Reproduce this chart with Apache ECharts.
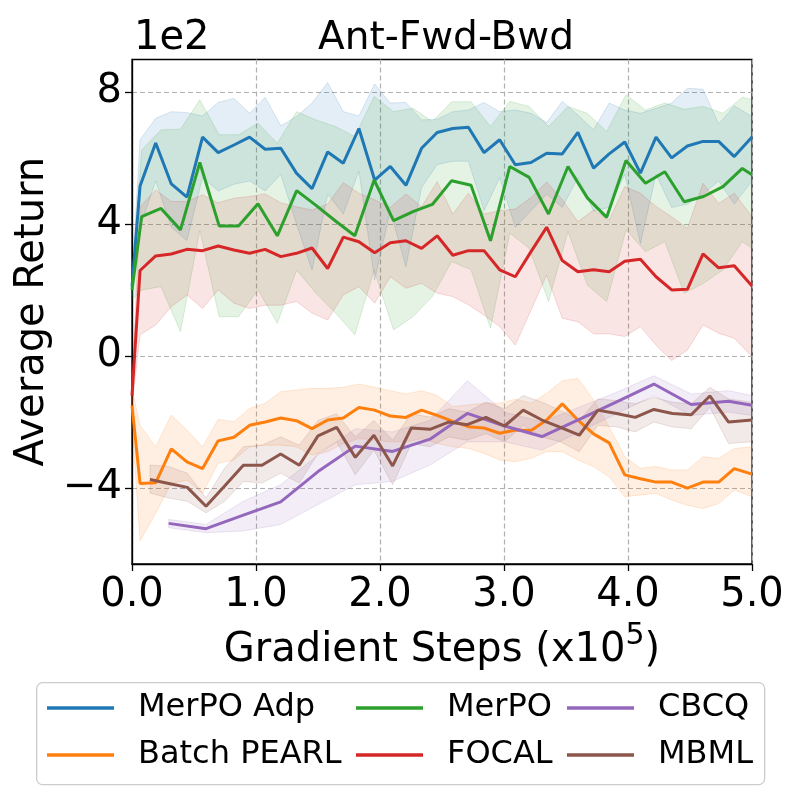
<!DOCTYPE html>
<html>
<head>
<meta charset="utf-8">
<script src="https://cdn.jsdelivr.net/npm/echarts@6/dist/echarts.min.js"></script>
<style>
  html, body { margin: 0; background: #fff; }
  #chart { width: 800px; height: 800px; }
</style>
</head>
<body>
<div id="chart"></div>
<script>
// gradient steps (x1e5) at which each method was logged
const stepsFine = [0, 0.065, 0.191, 0.317, 0.443, 0.569, 0.695, 0.822, 0.948, 1.074, 1.200, 1.326, 1.452, 1.578, 1.704, 1.830, 1.957, 2.083, 2.209, 2.335, 2.461, 2.587, 2.713, 2.839, 2.965, 3.091, 3.218, 3.344, 3.470, 3.596, 3.722, 3.848, 3.974, 4.100, 4.226, 4.352, 4.479, 4.605, 4.731, 4.857, 5.0];
const stepsMerpo = [0, 0.078, 0.234, 0.391, 0.547, 0.703, 0.859, 1.016, 1.172, 1.328, 1.484, 1.641, 1.797, 1.953, 2.109, 2.266, 2.422, 2.578, 2.734, 2.891, 3.047, 3.203, 3.359, 3.516, 3.672, 3.828, 3.984, 4.141, 4.297, 4.453, 4.609, 4.766, 4.922, 5.0];
const stepsMbml = [0.145, 0.296, 0.446, 0.597, 0.747, 0.898, 1.048, 1.199, 1.349, 1.500, 1.650, 1.801, 1.951, 2.102, 2.252, 2.403, 2.553, 2.704, 2.854, 3.005, 3.155, 3.306, 3.456, 3.607, 3.757, 3.908, 4.058, 4.209, 4.359, 4.510, 4.660, 4.811, 5.0];
const stepsCbcq = [0.296, 0.597, 0.898, 1.199, 1.500, 1.801, 2.102, 2.403, 2.704, 3.005, 3.306, 3.607, 3.908, 4.209, 4.510, 4.811, 5.0];

// average return (x1e2): mean and shaded band
const adpMean = [2.1, 5.15, 6.45, 5.21, 4.81, 6.63, 6.16, 6.39, 6.63, 6.26, 6.29, 5.54, 5.07, 6.18, 5.84, 6.89, 5.33, 5.74, 5.17, 6.29, 6.77, 6.89, 6.93, 6.16, 6.55, 5.79, 5.86, 6.14, 6.12, 6.77, 5.69, 6.12, 6.48, 5.54, 6.63, 6.0, 6.36, 6.5, 6.5, 6.04, 6.63];
const adpHigh = [2.4, 6.55, 7.2, 7.4, 7.37, 7.27, 7.68, 7.8, 7.35, 7.84, 6.97, 7.25, 7.66, 8.28, 7.4, 7.27, 8.24, 7.66, 7.68, 7.15, 7.17, 7.4, 7.45, 7.68, 7.4, 7.45, 7.35, 7.07, 7.71, 7.3, 6.85, 7.66, 7.45, 7.35, 7.5, 7.66, 8.11, 8.08, 7.03, 7.58, 7.25];
const adpLow = [1.8, 3.9, 5.3, 3.9, 3.5, 5.4, 5.0, 5.2, 5.3, 5.0, 5.5, 4.0, 2.6, 4.9, 4.3, 5.6, 2.3, 4.4, 2.7, 5.1, 5.8, 5.9, 5.9, 4.4, 5.4, 3.9, 4.4, 4.9, 4.5, 5.4, 4.4, 4.5, 5.5, 3.4, 5.5, 4.5, 4.6, 4.9, 5.3, 4.6, 5.3];

const merpoMean = [2.0, 4.22, 4.47, 3.82, 5.86, 3.94, 3.94, 4.61, 3.64, 5.01, 4.56, 4.09, 3.64, 5.33, 4.10, 4.37, 4.59, 5.31, 5.17, 3.49, 5.74, 5.41, 4.30, 5.74, 4.79, 4.20, 5.92, 5.23, 5.58, 4.67, 4.83, 5.13, 5.68, 5.49];
const merpoHigh = [2.3, 6.24, 6.85, 6.87, 7.76, 6.7, 6.7, 7.05, 6.44, 7.4, 7.15, 6.95, 6.65, 7.86, 7.4, 7.5, 7.1, 7.7, 7.7, 6.95, 7.71, 7.56, 6.95, 7.56, 7.35, 6.8, 7.91, 7.45, 7.66, 7.47, 7.56, 7.35, 7.84, 7.76];
const merpoLow = [1.7, 2.0, 2.1, 0.74, 3.8, 1.19, 1.19, 2.0, 0.99, 2.6, 1.9, 1.3, 0.64, 2.6, 0.79, 1.19, 1.8, 2.86, 2.61, 0.84, 3.72, 3.26, 1.65, 3.77, 2.15, 1.65, 3.82, 3.16, 3.46, 1.9, 2.2, 2.61, 3.46, 3.26];

const focalMean = [-1.2, 2.59, 3.03, 3.09, 3.23, 3.19, 3.33, 3.21, 3.11, 3.23, 3.01, 3.11, 3.27, 2.65, 3.6, 3.46, 3.13, 3.43, 3.49, 3.26, 3.64, 3.05, 3.19, 3.19, 2.61, 2.4, 3.16, 3.9, 2.89, 2.55, 2.61, 2.55, 2.87, 2.93, 2.4, 2.0, 2.02, 3.09, 2.67, 2.73, 2.12];
const focalHigh = [-0.9, 4.52, 5.03, 4.68, 4.68, 4.88, 4.64, 4.78, 4.83, 4.91, 4.64, 4.52, 4.42, 4.6, 5.25, 4.93, 4.73, 4.5, 4.91, 4.52, 5.28, 4.3, 4.93, 4.3, 4.4, 4.45, 4.8, 5.27, 4.74, 4.07, 4.42, 4.12, 5.13, 4.93, 4.53, 4.22, 3.87, 5.23, 4.62, 4.93, 4.22];
const focalLow = [-1.5, 0.64, 0.94, 1.49, 1.85, 1.44, 2.0, 1.6, 1.44, 1.54, 1.54, 1.65, 1.3, 1.09, 1.85, 2.1, 1.6, 2.4, 2.05, 2.2, 1.9, 1.8, 1.55, 1.24, 0.89, 0.33, 1.39, 2.45, 1.14, 1.04, 0.67, 0.67, 0.59, 0.89, 0.33, -0.14, 0.18, 0.94, 0.69, 0.54, -0.02];

const pearlMean = [-1.5, -3.86, -3.84, -2.81, -3.21, -3.41, -2.57, -2.46, -2.1, -2.0, -1.88, -1.96, -2.2, -1.94, -1.88, -1.56, -1.64, -1.82, -1.86, -1.64, -1.8, -1.98, -2.14, -2.18, -2.34, -2.24, -2.26, -1.94, -1.45, -1.94, -2.36, -2.63, -3.6, -3.72, -3.82, -3.82, -4.0, -3.82, -3.82, -3.41, -3.58];
const pearlHigh = [-1.0, -2.1, -2.75, -1.79, -2.24, -2.75, -1.92, -1.99, -1.59, -1.43, -1.08, -1.03, -0.98, -0.98, -0.95, -0.85, -0.95, -1.05, -1.15, -1.05, -1.2, -1.53, -1.48, -1.43, -1.43, -1.31, -1.43, -1.13, -0.75, -0.68, -1.33, -2.14, -3.05, -3.4, -3.35, -3.45, -3.45, -3.05, -3.1, -2.8, -2.75];
const pearlLow = [-2.0, -5.6, -4.76, -3.86, -3.76, -4.16, -3.25, -3.15, -2.75, -2.7, -2.7, -2.75, -3.0, -2.9, -2.65, -2.5, -2.55, -2.6, -2.6, -2.5, -2.65, -2.75, -2.8, -2.95, -3.15, -3.2, -3.1, -2.9, -2.9, -3.15, -3.35, -3.66, -4.26, -4.21, -4.16, -4.36, -4.52, -4.62, -4.47, -4.06, -4.26];

const mbmlMean = [-3.74, -3.86, -3.98, -4.55, -3.94, -3.31, -3.31, -2.97, -3.31, -2.42, -2.16, -3.07, -2.4, -3.33, -2.18, -2.22, -2.0, -2.08, -1.86, -2.12, -1.64, -1.94, -2.16, -2.4, -1.64, -1.74, -1.86, -1.62, -1.74, -1.78, -1.21, -2.0, -1.94];
const mbmlHigh = [-3.3, -3.35, -3.55, -4.3, -3.4, -2.75, -2.7, -2.45, -2.7, -1.95, -1.75, -2.45, -1.95, -2.55, -1.75, -1.85, -1.6, -1.7, -1.4, -1.6, -1.2, -1.4, -1.65, -1.95, -1.3, -1.35, -1.45, -1.25, -1.4, -1.45, -0.95, -1.3, -1.4];
const mbmlLow = [-4.15, -4.3, -4.4, -4.75, -4.4, -3.8, -3.85, -3.55, -3.85, -2.95, -2.6, -3.6, -2.85, -3.9, -2.65, -2.75, -2.45, -2.55, -2.35, -2.6, -2.1, -2.45, -2.6, -2.9, -2.1, -2.15, -2.3, -2.0, -2.15, -2.2, -1.55, -2.65, -2.6];

const cbcqMean = [-5.07, -5.23, -4.82, -4.42, -3.5, -2.73, -2.89, -2.52, -1.74, -2.12, -2.44, -1.92, -1.39, -0.85, -1.47, -1.37, -1.49];
const cbcqHigh = [-4.95, -5.1, -4.4, -3.9, -3.0, -2.2, -2.3, -1.95, -0.75, -1.7, -2.0, -1.55, -1.1, -0.6, -1.15, -1.05, -1.2];
const cbcqLow = [-5.2, -5.35, -5.3, -5.1, -4.5, -3.9, -3.8, -3.3, -2.6, -2.6, -2.85, -2.3, -1.75, -1.2, -1.8, -1.7, -1.8];

const yTicks = [-4, 0, 4, 8];

const FONT = 'DejaVu Sans';

const methods = [
    { name: 'MerPO Adp', rgb: '31,119,180', xs: stepsFine, mean: adpMean, lo: adpLow, hi: adpHigh },
    { name: 'Batch PEARL', rgb: '255,127,14', xs: stepsFine, mean: pearlMean, lo: pearlLow, hi: pearlHigh },
    { name: 'MerPO', rgb: '44,160,44', xs: stepsMerpo, mean: merpoMean, lo: merpoLow, hi: merpoHigh },
    { name: 'FOCAL', rgb: '214,39,40', xs: stepsFine, mean: focalMean, lo: focalLow, hi: focalHigh },
    { name: 'CBCQ', rgb: '148,103,189', xs: stepsCbcq, mean: cbcqMean, lo: cbcqLow, hi: cbcqHigh },
    { name: 'MBML', rgb: '140,86,75', xs: stepsMbml, mean: mbmlMean, lo: mbmlLow, hi: mbmlHigh },
];

// one polygon per method: upper edge left->right, lower edge back
const bandSeries = m => ({
    type: 'custom',
    name: m.name + ' band',
    silent: true,
    clip: true,
    z: 1,
    data: m.xs.map((x, i) => [x, m.lo[i], m.hi[i]]),
    encode: { x: 0, y: [1, 2] },
    renderItem: (params, api) => {
        if (params.dataIndex !== 0) return;
        const pts = [];
        m.xs.forEach((x, i) => pts.push(api.coord([x, m.hi[i]])));
        for (let i = m.xs.length - 1; i >= 0; i--) pts.push(api.coord([m.xs[i], m.lo[i]]));
        return {
            type: 'polygon',
            shape: { points: pts },
            style: { fill: `rgba(${m.rgb},0.12)`, stroke: `rgba(${m.rgb},0.16)`, lineWidth: 1 }
        };
    }
});

const lineSeries = m => ({
    type: 'line',
    name: m.name,
    data: m.xs.map((x, i) => [x, m.mean[i]]),
    symbol: 'none',
    z: 3,
    lineStyle: { width: 3, color: `rgb(${m.rgb})` },
    itemStyle: { color: `rgb(${m.rgb})` }
});

const legendCommon = {
    orient: 'vertical',
    top: 690,
    padding: 0,
    icon: 'rect',
    itemWidth: 67,
    itemHeight: 3.5,
    itemGap: 11,
    selectedMode: false,
    textStyle: { fontFamily: FONT, fontSize: 32, color: '#000', lineHeight: 36, padding: [0, 0, 0, 19] }
};

const chart = echarts.init(document.getElementById('chart'));

chart.setOption({
    animation: false,
    backgroundColor: '#fff',
    title: {
        text: 'Ant-Fwd-Bwd',
        left: 441,
        top: 14,
        textAlign: 'center',
        textStyle: { fontFamily: FONT, fontSize: 39, fontWeight: 'normal', color: '#000' }
    },
    grid: {
        left: 132, right: 48, top: 59.5, bottom: 236,
        containLabel: false,
        outerBoundsMode: 'none',
        show: true,
        borderColor: '#000',
        borderWidth: 1.3
    },
    legend: [
        { ...legendCommon, left: 47, data: ['MerPO Adp', 'Batch PEARL'] },
        { ...legendCommon, left: 356, data: ['MerPO', 'FOCAL'] },
        { ...legendCommon, left: 567, data: ['CBCQ', 'MBML'] }
    ],
    xAxis: {
        type: 'value',
        min: 0,
        max: 5,
        interval: 1,
        name: '{t|Gradient Steps (x10}{s|5}{t|)}',
        nameLocation: 'middle',
        nameGap: 52,
        nameTextStyle: {
            rich: {
                t: { fontFamily: FONT, fontSize: 40, color: '#000', lineHeight: 60 },
                s: { fontFamily: FONT, fontSize: 30, color: '#000', lineHeight: 30, verticalAlign: 'top' }
            }
        },
        axisLine: { show: true, onZero: false, lineStyle: { color: '#000', width: 1.3 } },
        axisTick: { show: true, length: 7, lineStyle: { color: '#000', width: 1.3 } },
        axisLabel: {
            fontFamily: FONT, fontSize: 40, color: '#000', margin: 12,
            formatter: v => v.toFixed(1)
        },
        splitLine: { show: true, lineStyle: { type: [5, 3], color: '#b0b0b0', width: 1.2 } }
    },
    yAxis: {
        type: 'value',
        min: -6.3,
        max: 8.98,
        name: 'Average Return',
        nameLocation: 'middle',
        nameGap: 72,
        nameTextStyle: { fontFamily: FONT, fontSize: 40, color: '#000' },
        axisLine: { show: true, onZero: false, lineStyle: { color: '#000', width: 1.3 } },
        axisTick: { show: true, length: 7, customValues: yTicks, lineStyle: { color: '#000', width: 1.3 } },
        axisLabel: {
            customValues: yTicks,
            fontFamily: FONT, fontSize: 40, color: '#000', margin: 10,
            formatter: v => (v < 0 ? '\u2212' + Math.abs(v) : String(v))
        },
        splitLine: { show: true, lineStyle: { type: [5, 3], color: '#b0b0b0', width: 1.2 } }
    },
    graphic: [
        {
            type: 'text',
            left: 134,
            top: 19,
            style: { text: '1e2', fontFamily: FONT, fontSize: 40, fill: '#000' }
        },
        {
            type: 'rect',
            left: 36,
            top: 682,
            z: -1,
            shape: { width: 728, height: 102, r: 6 },
            style: { fill: '#fff', stroke: '#cccccc', lineWidth: 1.3 }
        }
    ],
    series: [
        ...methods.map(bandSeries),
        ...methods.map(lineSeries)
    ]
});
</script>
</body>
</html>
